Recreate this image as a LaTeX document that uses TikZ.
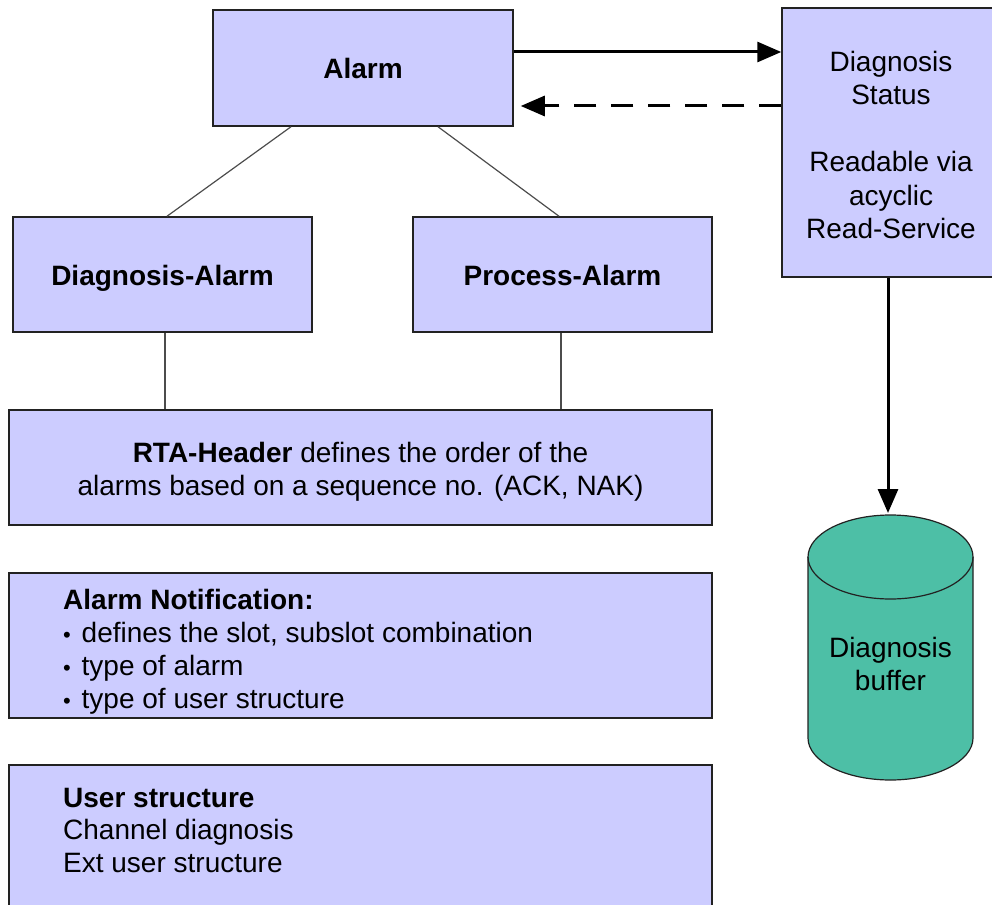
\documentclass[tikz,border=0pt]{standalone}
\usepackage{fontspec}
\setmainfont{Liberation Sans}
\usetikzlibrary{arrows.meta}
\definecolor{lav}{RGB}{204,204,255}
\definecolor{cyl}{RGB}{77,191,166}
\definecolor{edge}{RGB}{34,34,34}
\newcommand\mybul{\makebox[18.5pt][l]{\fontsize{22}{22}\selectfont •}}
\begin{document}
\begin{tikzpicture}[x=1pt,y=-1pt,
  box/.style={draw=edge, line width=1.5pt, fill=lav, inner sep=0pt, align=center,
    font=\fontsize{28}{33.5}\selectfont},
  oneline/.style={text height=26pt, text depth=4pt},
  ctext/.style={inner sep=0pt, align=center, font=\fontsize{28}{33.5}\selectfont},
  thinline/.style={draw=black!70, line width=1.2pt},
  heavy/.style={line width=3pt, -{Triangle[length=24pt,width=20pt]}},
  txt/.style={inner sep=0pt, align=left, anchor=north west}]
\useasboundingbox (0,0) rectangle (992,904);

% boxes
\node[box, oneline, minimum width=300pt, minimum height=116pt] (alarm) at (363,68) {\textbf{Alarm}};
\node[box, minimum width=218pt, minimum height=269pt] (ds) at (891,142.5) {};
\node[ctext] (dstext) at (891,145)
  {Diagnosis\\Status\\[33.5pt]Readable via\\acyclic\\Read-Service};
\node[box, oneline, minimum width=299pt, minimum height=115pt] (da) at (162.5,274.5) {\textbf{Diagnosis-Alarm}};
\node[box, oneline, minimum width=299pt, minimum height=115pt] (pa) at (562.5,274.5) {\textbf{Process-Alarm}};
\node[box, minimum width=703pt, minimum height=115pt] (rta) at (360.5,467.5) {};
\node[ctext] (rtatext) at (360.5,472)
  {\textbf{RTA-Header} defines the order of the\\alarms based on a sequence no. (ACK, NAK)};
\node[box, minimum width=703pt, minimum height=145pt] (an) at (360.5,645.5) {};
\node[box, minimum width=703pt, minimum height=145pt] (us) at (360.5,837.5) {};

\node[txt, font=\fontsize{28}{33}\selectfont] (antext) at (63,589)
  {\textbf{Alarm Notification:}\\\mybul defines the slot, subslot combination\\\mybul type of alarm\\\mybul type of user structure};
\node[txt, font=\fontsize{28}{32.5}\selectfont] (ustext) at (63,788)
  {\textbf{User structure}\\Channel diagnosis\\Ext user structure};

% cylinder
\filldraw[fill=cyl, draw=edge, line width=1.2pt]
  (808,557) -- (808,738) arc[start angle=180, end angle=360, x radius=82.5pt, y radius=42pt]
  -- (973,557) arc[start angle=0, end angle=180, x radius=82.5pt, y radius=42pt] -- cycle;
\draw[draw=edge, line width=1.2pt]
  (808,557) arc[start angle=180, end angle=360, x radius=82.5pt, y radius=42pt];
\coordinate (cyltop) at (888,513);
\node[ctext] (buf) at (890.5,664) {Diagnosis\\buffer};

% connectors
\draw[heavy] ([yshift=16pt]alarm.east) -- ([yshift=90.5pt]ds.west);
\draw[heavy, dash pattern=on 22pt off 15pt] ([yshift=36.5pt]ds.west) -- ([xshift=7pt,yshift=-38pt]alarm.east);
\draw[thinline] ([xshift=-72pt]alarm.south) -- ([xshift=4.5pt]da.north);
\draw[thinline] ([xshift=75pt]alarm.south) -- ([xshift=-3.5pt]pa.north);
\draw[thinline] ([xshift=2.5pt]da.south) -- ([xshift=2.5pt]da.south |- rta.north);
\draw[thinline] ([xshift=-1.5pt]pa.south) -- ([xshift=-1.5pt]pa.south |- rta.north);
\draw[heavy] ([xshift=-3pt]ds.south) -- (cyltop);
\end{tikzpicture}
\end{document}
